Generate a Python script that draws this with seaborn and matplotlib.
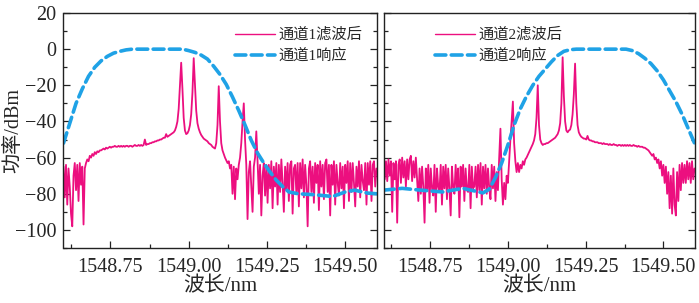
import numpy as np
import pandas as pd
import matplotlib
matplotlib.use("Agg")
import matplotlib.pyplot as plt
import seaborn as sns
from matplotlib.ticker import MultipleLocator, FormatStrFormatter

# ---------------- data ----------------
x_start = 1548.600
x_step = 0.004

ch1_power = [
    -65, -82, -64, -86, -66, -76, -91, -98, -70, -63,
    -78, -64, -84, -63, -75, -65, -97, -66, -63, -61,
    -62, -59, -60, -58, -59, -57, -58, -56.5, -57, -56,
    -56, -55.5, -55, -55.5, -54.5, -55, -54.5, -54, -54.5, -54,
    -54, -53.5, -54, -54, -53.5, -54, -53.5, -54, -53.5, -54,
    -53.5, -53.5, -54, -53.5, -53.5, -54, -53.5, -53, -53.5, -53.5,
    -53, -53.5, -53, -53.5, -53, -50, -53, -52.5, -52.5, -52,
    -52, -51.5, -51.5, -51, -51, -50.5, -50.5, -50, -50, -49.5,
    -49, -49, -47, -48.5, -48, -47.5, -47, -46.5, -46, -45,
    -43, -40, -33, -20, -7.5, -22, -38, -45, -47, -46.5,
    -45, -42, -36, -24, -5, -20, -34, -41, -44, -46,
    -47.5, -48.5, -49.5, -50, -50.5, -51, -52, -52.5, -53, -54,
    -54.5, -55, -52, -42, -20.5, -40, -52, -56, -58, -60,
    -61.5, -63, -62, -66, -64, -80, -65, -83, -66, -72,
    -64, -60, -52, -40, -30, -50, -64, -94, -68, -62,
    -76, -90, -65, -60, -45.5, -62, -80, -64, -92, -70,
    -63, -81, -64, -85, -64, -77, -62, -88, -65, -76,
    -63, -86, -64, -79, -61, -74, -90, -65, -78, -63,
    -84, -64, -62, -91, -66, -64, -80, -63, -87, -63,
    -77, -61, -82, -64, -75, -98, -66, -62, -79, -65,
    -85, -63, -74, -64, -89, -62, -76, -64, -83, -63,
    -61, -79, -64, -92, -64, -75, -62, -86, -64, -74,
    -81, -63, -77, -65, -88, -64, -74, -62, -84, -63,
    -79, -63, -74, -87, -65, -76, -62, -82, -64, -73,
    -78, -63, -86, -63, -75, -62, -84, -64, -62, -76,
    -66,
]

ch2_power = [
    -64, -72, -62, -73, -61, -70, -62, -90, -63, -72,
    -62, -96, -64, -61, -74, -60, -71, -62, -76, -61,
    -72, -61, -59, -73, -62, -71, -60, -72, -84, -66,
    -80, -65, -76, -96, -66, -78, -64, -85, -66, -77,
    -81, -64, -90, -66, -76, -79, -64, -86, -65, -77,
    -64, -83, -66, -77, -92, -65, -76, -80, -64, -77,
    -66, -93, -65, -76, -64, -84, -66, -78, -79, -64,
    -88, -65, -77, -76, -65, -82, -64, -78, -63, -86,
    -65, -77, -64, -80, -66, -77, -83, -64, -77, -65,
    -84, -68, -78, -60, -44, -72, -86, -74, -83, -70,
    -74, -62, -50, -40, -29, -52, -62, -68, -63, -68,
    -64, -66, -62, -64, -61, -60, -58.5, -57, -55.5, -54,
    -52.5, -50.5, -47, -38, -20, -42, -50, -52, -53, -52.5,
    -52.5, -52, -52, -51.5, -51, -50.5, -50, -49.5, -49, -48,
    -47, -45, -41, -30, -4.5, -26, -40, -45, -46, -45,
    -44.5, -42, -36, -25, -8, -30, -42, -46, -47.5, -48.5,
    -49, -49.5, -49.5, -50, -48, -50, -50.5, -50.5, -51, -51,
    -51.5, -51.5, -51.5, -52, -52, -52, -52.5, -52, -52.5, -52.5,
    -52.5, -53, -52.5, -53, -53, -52.5, -53, -53, -53.5, -53,
    -53, -53.5, -53, -53.5, -53, -53.5, -53, -53.5, -53, -53.5,
    -53.5, -53, -53.5, -53.5, -54, -53.5, -54, -54, -54, -54.5,
    -54.5, -55, -55.5, -56, -57, -58, -59, -58, -61, -60,
    -63, -61, -66, -62, -70, -64, -74, -65, -80, -68,
    -88, -70, -91, -66, -86, -92, -68, -84, -64, -78,
    -63, -74, -64, -74, -62, -72, -63, -74, -62, -72,
    -66,
]

resp1_wl = [1548.60, 1548.62, 1548.64, 1548.66, 1548.68, 1548.70, 1548.72, 1548.74,
            1548.76, 1548.78, 1548.80, 1548.82, 1548.90, 1548.98, 1549.00, 1549.02,
            1549.04, 1549.06, 1549.08, 1549.10, 1549.12, 1549.14, 1549.16, 1549.18,
            1549.20, 1549.22, 1549.24, 1549.26, 1549.28, 1549.30, 1549.32, 1549.35,
            1549.40, 1549.46, 1549.50, 1549.53, 1549.57, 1549.60]
resp1_db = [-52, -41, -30, -22, -15, -10, -6.5, -4,
            -2.2, -1.2, -0.4, 0, 0, 0, -0.8, -1.8,
            -3.3, -5.5, -9.5, -14, -19.5, -26.5, -34, -42,
            -50.5, -57.5, -63, -68, -72.5, -76, -79, -80,
            -80.5, -81.5, -79, -78, -79.6, -80]

resp2_wl = [1548.60, 1548.66, 1548.72, 1548.79, 1548.855, 1548.92, 1548.94, 1548.96,
            1548.98, 1549.00, 1549.02, 1549.04, 1549.06, 1549.08, 1549.10, 1549.12,
            1549.14, 1549.16, 1549.18, 1549.20, 1549.22, 1549.30, 1549.38, 1549.40,
            1549.42, 1549.44, 1549.46, 1549.48, 1549.50, 1549.52, 1549.54, 1549.56,
            1549.58, 1549.60]
resp2_db = [-78, -77, -78, -79, -77, -79.5, -77.5, -71,
            -63, -53, -42, -33, -26, -20, -15, -11,
            -7, -3.5, -1.2, -0.3, 0, 0, 0, -0.8,
            -2.5, -5, -8, -12, -17, -23, -29, -36,
            -44, -52]

labels_filtered = ["通道1滤波后", "通道2滤波后"]
labels_response = ["通道1响应", "通道2响应"]
xlabel_text = "波长/nm"
ylabel_text = "功率/dBm"

# ---------------- style ----------------
sns.set_style("white")
plt.rcParams["font.family"] = ["Liberation Serif", "Noto Sans CJK SC", "DejaVu Sans"]
plt.rcParams["axes.unicode_minus"] = True

spec_color = "#EC0F7F"
resp_color = "#1FA2E6"

fig = plt.figure(figsize=(6.99, 3.03), dpi=100)
axL = fig.add_axes([63.5 / 699, 1 - 248 / 303, 313 / 699, 235 / 303])
axR = fig.add_axes([383.5 / 699, 1 - 248 / 303, 311 / 699, 235 / 303])

panels = [
    (axL, ch1_power, resp1_wl, resp1_db, labels_filtered[0], labels_response[0]),
    (axR, ch2_power, resp2_wl, resp2_db, labels_filtered[1], labels_response[1]),
]

for ax, pw, rwl, rdb, lab_f, lab_r in panels:
    wl = x_start + x_step * np.arange(len(pw))
    df_s = pd.DataFrame({"wl": wl, "p": pw})
    df_r = pd.DataFrame({"wl": rwl, "p": rdb})
    sns.lineplot(data=df_s, x="wl", y="p", ax=ax, color=spec_color, lw=1.3,
                 label=lab_f, estimator=None, sort=False)
    sns.lineplot(data=df_r, x="wl", y="p", ax=ax, color=resp_color, lw=2.6,
                 label=lab_r, estimator=None, sort=False)
    ax.lines[-1].set_dashes((3.0, 1.5))
    ax.lines[-1].set_dash_capstyle("round")
    ax.set_xlim(1548.6, 1549.6)
    ax.set_ylim(-110, 20)
    ax.xaxis.set_major_locator(MultipleLocator(0.25))
    ax.xaxis.set_minor_locator(MultipleLocator(0.125))
    ax.yaxis.set_major_locator(MultipleLocator(20))
    ax.yaxis.set_minor_locator(MultipleLocator(10))
    ax.tick_params(which="both", direction="in", top=False, right=True,
                   left=True, bottom=True, labelsize=14.5, width=0.9, color="#222222")
    ax.tick_params(which="major", length=5)
    ax.tick_params(which="minor", length=3)
    ax.tick_params(axis="x", pad=7)
    ax.tick_params(axis="y", pad=5)
    for s in ax.spines.values():
        s.set_color("#222222")
        s.set_linewidth(1.0)
    ax.set_xlabel(xlabel_text, fontsize=15)
    ax.xaxis.label.set_va("center")
    ax.xaxis.set_label_coords(0.5, -39 / 235)
    ax.set_ylabel("")
    ax.xaxis.set_major_formatter(FormatStrFormatter("%.2f"))

axL.set_ylabel(ylabel_text, fontsize=14.5)
axL.yaxis.label.set_va("center")
axL.yaxis.set_label_coords(-50 / 313, 0.5)
axR.tick_params(labelleft=False)

legL = axL.legend(loc="upper right", bbox_to_anchor=(1.0, 1.0), frameon=False,
                  fontsize=11, handlelength=2.6, handletextpad=0.2, labelspacing=0.45,
                  borderaxespad=0.55)
legR = axR.legend(loc="upper left", bbox_to_anchor=(0.12, 1.0), frameon=False,
                  fontsize=11, handlelength=2.6, handletextpad=0.2, labelspacing=0.45,
                  borderaxespad=0.55)
for leg in (legL, legR):
    leg.get_lines()[0].set_linewidth(1.0)

fig.savefig("out.png", dpi=100)
